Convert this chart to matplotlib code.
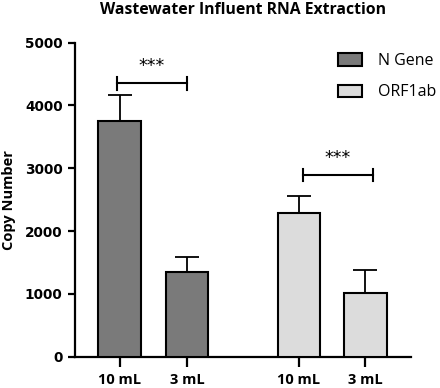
import matplotlib
matplotlib.use("Agg")
import matplotlib.pyplot as plt
import numpy as np

title = "Wastewater Influent RNA Extraction"
ylabel = "Copy Number"
groups = ["N Gene", "ORF1ab"]
tick_labels = ["10 mL", "3 mL", "10 mL", "3 mL"]
yticks = [0, 1000, 2000, 3000, 4000, 5000]
n_gene = [3750, 1355]
n_gene_err = [410, 235]
orf1ab = [2295, 1010]
orf1ab_err = [260, 370]
sig_label = "***"
sig_heights = [4354, 2893]

pos_n = [0.0, 1.0]
pos_o = [2.67, 3.66]
colors = ["#7a7a7a", "#dcdcdc"]

fig = plt.figure(figsize=(4.4, 3.88), dpi=100)
ax = fig.add_axes([75/440, 31.3/388, 336/440, 314/388])

bw = 0.64
ekw = dict(ecolor="black", elinewidth=1.3, capthick=1.3)
b1 = ax.bar(pos_n, n_gene, width=bw, color=colors[0], edgecolor="black", linewidth=1.5,
            yerr=[np.zeros(2), n_gene_err], capsize=8.3, error_kw=ekw, label=groups[0], zorder=3)
b2 = ax.bar(pos_o, orf1ab, width=bw, color=colors[1], edgecolor="black", linewidth=1.5,
            yerr=[np.zeros(2), orf1ab_err], capsize=8.3, error_kw=ekw, label=groups[1], zorder=3)

ax.set_xlim(-0.67, 4.34)
ax.set_ylim(0, 5000)
ax.set_yticks(yticks)
ax.set_yticklabels([str(v) for v in yticks], fontfamily="DejaVu Sans", fontweight="bold", fontsize=9.8)
ax.set_xticks(pos_n + pos_o)
ax.set_xticklabels(tick_labels, fontfamily="Open Sans", fontweight="bold", fontsize=10.5)

for s in ["top", "right"]:
    ax.spines[s].set_visible(False)
for s in ["left", "bottom"]:
    ax.spines[s].set_linewidth(1.6)
ax.tick_params(axis="y", length=5, width=1.6, pad=4)
ax.tick_params(axis="x", length=7, width=1.6, pad=5)

ax.set_ylabel(ylabel, fontfamily="Open Sans", fontweight="bold", fontsize=10.5, labelpad=6)
ax.set_title(title, fontfamily="Open Sans", fontweight="bold", fontsize=11.3, pad=21)

# significance brackets
brackets = [(-0.05, 1.0), (2.73, 3.77)]
for (x0, x1), h in zip(brackets, sig_heights):
    ax.plot([x0, x1], [h, h], color="black", lw=1.5, clip_on=False)
    for xx in (x0, x1):
        ax.plot([xx, xx], [h - 100, h + 100], color="black", lw=1.5, clip_on=False)
    ax.text((x0 + x1) / 2, h + 130, sig_label, ha="center", va="bottom",
            fontfamily="DejaVu Sans", fontsize=12.5)

leg = ax.legend(handles=[b1, b2], loc="upper left", bbox_to_anchor=(338/440, 1 - 53/388),
                bbox_transform=fig.transFigure, frameon=False, prop=dict(family="Open Sans", size=11.5),
                handlelength=1.5, handleheight=0.8, handletextpad=1.0, labelspacing=0.95,
                borderpad=0.0, borderaxespad=0.0)

fig.savefig("out.png", dpi=100)
